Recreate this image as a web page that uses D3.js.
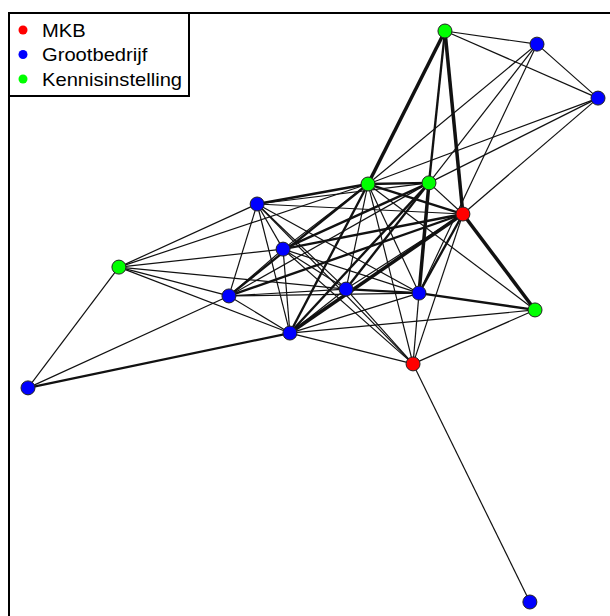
<!DOCTYPE html>
<html>
<head>
<meta charset="utf-8">
<script src="https://cdn.jsdelivr.net/npm/d3@7"></script>
<style>
  body { margin: 0; background: #fff; }
  svg { display: block; font-family: "Liberation Sans", Arial, sans-serif; }
</style>
</head>
<body>
<div id="chart"></div>
<script>
// categories for the legend
const categories = ["MKB", "Grootbedrijf", "Kennisinstelling"];
const categoryColors = ["#ff0000", "#0000ff", "#00ff00"];

// nodes: id, type (index into categories), layout coords in [-1, 1]
const nodeIds   = ["A", "B", "C", "D", "E", "F", "G", "H", "I", "J", "K", "L", "M", "N", "O", "P", "Q"];
const nodeType  = [2, 1, 1, 2, 2, 0, 1, 1, 2, 1, 1, 1, 2, 1, 0, 1, 1];
const layoutX   = [0.463, 0.786, 1.0, 0.193, 0.407, 0.526, -0.196, -0.105, -0.681, -0.295, 0.116, 0.372, 0.779, -0.081, 0.351, -1.0, 0.761];
const layoutY   = [1.0, 0.954, 0.765, 0.464, 0.468, 0.359, 0.394, 0.236, 0.173, 0.072, 0.096, 0.082, 0.023, -0.058, -0.166, -0.250, -1.0];

// edges: from, to, weight
const edgeFrom = ["A","A","A","A","A","B","B","B","B","C","C","C",
                  "D","D","D","D","D","D","D","D","D","D","D",
                  "E","E","E","E","E","E","E",
                  "F","F","F","F","F","F","F","F",
                  "G","G","G","G","G","G","G",
                  "H","H","H","H","H","H",
                  "I","I","I","I",
                  "J","J","J","J",
                  "K","K","K","L","L","L","M","M","N","N","O"];
const edgeTo   = ["B","C","D","E","F","C","D","E","L","D","E","F",
                  "E","F","G","H","J","K","L","N","O","I","M",
                  "F","G","H","J","K","L","N",
                  "G","H","J","K","L","M","N","O",
                  "I","H","J","N","K","L","O",
                  "I","J","K","L","N","O",
                  "J","N","K","P",
                  "K","L","N","P",
                  "L","N","O","M","O","N","N","O","O","P","Q"];
const edgeWeight = [1,1,3,2,3,1,1,1,1,1,1,1,
                    2,2,2,1,2,1,1,2,1,1,1,
                    1,1,2,1,2,3,2,
                    1,2,2,1,2,3,3,1,
                    1,1,1,1,1,1,1,
                    1,1,1,1,1,1,
                    1,1,1,1,
                    1,1,1,1,
                    2,1,1,2,1,1,1,1,1,2,1];

const W = 610, H = 616;

const svg = d3.select("#chart")
    .append("svg")
    .attr("width", W)
    .attr("height", H);

//scales from layout space to pixels
const x = d3.scaleLinear().domain([-1, 1]).range([28, 598]);
const y = d3.scaleLinear().domain([1, -1]).range([31, 602]);
const strokeW = d3.scaleLinear().domain([1, 3]).range([1.2, 3.5]);

const nodes = nodeIds.map((id, i) => ({ id, type: nodeType[i], x: layoutX[i], y: layoutY[i] }));
const byId = new Map(nodes.map(n => [n.id, n]));
const edges = edgeFrom.map((f, i) => ({ source: byId.get(f), target: byId.get(edgeTo[i]), w: edgeWeight[i] }));

// plot frame (runs off the bottom and right of the picture)
svg.append("rect")
    .attr("x", 9)
    .attr("y", 13)
    .attr("width", 700)
    .attr("height", 700)
    .attr("fill", "none")
    .attr("stroke", "#000")
    .attr("stroke-width", 2);

// edges
svg.append("g")
    .selectAll("line")
    .data(edges)
    .join("line")
    .attr("x1", d => x(d.source.x))
    .attr("y1", d => y(d.source.y))
    .attr("x2", d => x(d.target.x))
    .attr("y2", d => y(d.target.y))
    .attr("stroke", "#111")
    .attr("stroke-width", d => strokeW(d.w));

// nodes
svg.append("g")
    .selectAll("circle")
    .data(nodes)
    .join("circle")
    .attr("cx", d => x(d.x))
    .attr("cy", d => y(d.y))
    .attr("r", 7)
    .attr("fill", d => categoryColors[d.type])
    .attr("stroke", "#222")
    .attr("stroke-width", 1);

// legend
const legend = svg.append("g");
legend.append("rect")
    .attr("x", 9)
    .attr("y", 13)
    .attr("width", 180)
    .attr("height", 83)
    .attr("fill", "#fff")
    .attr("stroke", "#000")
    .attr("stroke-width", 2);

const item = legend.selectAll("g.item")
    .data(categories)
    .join("g")
    .attr("class", "item")
    .attr("transform", (d, i) => `translate(0, ${30 + i * 24.5})`);

item.append("circle")
    .attr("cx", 23)
    .attr("cy", 0)
    .attr("r", 4.5)
    .attr("fill", (d, i) => categoryColors[i]);

item.append("text")
    .attr("transform", "translate(42, 6.5) scale(1.12, 1)")
    .attr("font-size", 18)
    .attr("fill", "#000")
    .text(d => d);
</script>
</body>
</html>
